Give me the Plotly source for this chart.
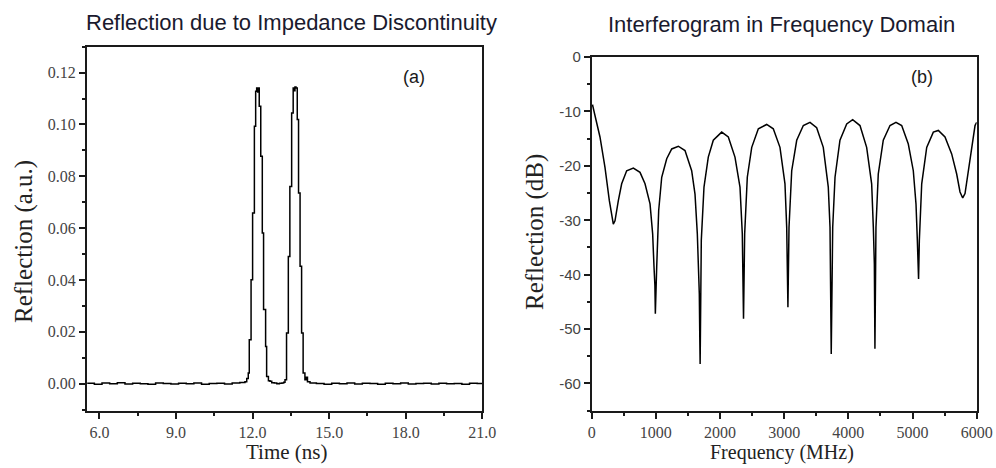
import plotly.graph_objects as go

# ---------------- data: panel (a) ----------------
time_ns = [5.52, 5.8, 6.1, 6.4, 6.7, 7.0, 7.3, 7.6, 7.9, 8.2, 8.5, 8.8, 9.1, 9.4, 9.7,
           10.0, 10.3, 10.6, 10.9, 11.2, 11.5, 11.7, 11.77, 11.83, 11.87, 11.94, 12.00,
           12.07, 12.12, 12.16, 12.20, 12.22, 12.26, 12.32, 12.38, 12.43, 12.51, 12.55,
           12.62, 12.68, 12.75, 12.85, 12.95, 13.05, 13.15, 13.22, 13.27, 13.33, 13.40,
           13.46, 13.53, 13.59, 13.63, 13.66, 13.70, 13.75, 13.80, 13.86, 13.92, 13.98,
           14.05, 14.10, 14.15, 14.25, 14.5, 14.8, 15.1, 15.4, 15.7, 16.0, 16.3, 16.6,
           16.9, 17.2, 17.5, 17.8, 18.1, 18.4, 18.7, 19.0, 19.3, 19.6, 19.9, 20.2, 20.5,
           20.8, 21.0]
refl_au = [0.0002, -0.0002, 0.0003, 0.0000, 0.0004, -0.0001, 0.0002, 0.0000, -0.0002,
           0.0003, 0.0001, -0.0001, 0.0002, 0.0000, 0.0003, -0.0002, 0.0001, 0.0002,
           -0.0001, 0.0003, 0.0005, 0.0008, 0.0020, 0.0041, 0.0170, 0.0401, 0.0659,
           0.0993, 0.1128, 0.1141, 0.1125, 0.1141, 0.1070, 0.0877, 0.0581, 0.0286,
           0.0144, 0.0028, 0.0012, 0.0010, 0.0004, 0.0003, 0.0000, 0.0002, 0.0003,
           0.0006, 0.0015, 0.0196, 0.0491, 0.0761, 0.1044, 0.1141, 0.1130, 0.1145,
           0.1141, 0.1019, 0.0736, 0.0453, 0.0196, 0.0041, 0.0015, 0.0025, 0.0008,
           0.0003, 0.0001, -0.0002, 0.0002, 0.0000, 0.0003, -0.0001, 0.0002, 0.0001,
           -0.0002, 0.0002, 0.0000, 0.0003, -0.0001, 0.0001, 0.0002, -0.0001, 0.0002,
           0.0000, 0.0001, -0.0002, 0.0002, 0.0001, 0.0000]

# ---------------- data: panel (b) ----------------
freq_mhz = [0, 15, 51, 129, 207, 275, 337, 363, 415, 467, 545, 649, 753, 831, 909, 950,
            971, 985, 992, 1000, 1013, 1044, 1091, 1169, 1247, 1350, 1454, 1558, 1610,
            1646, 1677, 1685, 1690, 1708, 1750, 1817, 1895, 2026, 2129, 2233, 2311, 2347,
            2360, 2366, 2384, 2425, 2494, 2597, 2727, 2830, 2934, 3012, 3039, 3050, 3058,
            3075, 3117, 3195, 3298, 3402, 3506, 3609, 3687, 3714, 3725, 3733, 3756, 3792,
            3869, 3974, 4067, 4181, 4285, 4363, 4389, 4405, 4414, 4430, 4466, 4544, 4649,
            4742, 4831, 4934, 5012, 5054, 5075, 5085, 5094, 5106, 5143, 5221, 5324, 5402,
            5506, 5610, 5688, 5740, 5782, 5818, 5870, 5922, 5974, 6000]
refl_db = [-9.0, -8.9, -10.75, -14.7, -20.3, -26.4, -30.7, -30.1, -26.4, -23.3, -20.9,
           -20.4, -21.2, -23.3, -27.0, -32.5, -38.6, -42.0, -47.2, -42.5, -38.6, -28.2,
           -22.1, -18.7, -16.9, -16.4, -17.2, -20.9, -25.2, -32.5, -43.5, -52.0, -56.4,
           -33.7, -23.9, -18.4, -15.3, -13.8, -14.7, -18.4, -23.9, -32.5, -41.0, -48.1,
           -32.5, -22.1, -16.6, -13.2, -12.4, -13.2, -16.6, -23.3, -31.3, -38.0, -46.0,
           -31.3, -20.9, -15.3, -12.6, -12.0, -13.0, -16.6, -23.9, -31.3, -48.0, -54.6,
           -31.3, -22.1, -15.3, -12.3, -11.5, -12.6, -16.6, -23.3, -31.3, -38.0, -53.6,
           -31.3, -21.5, -15.3, -12.6, -12.0, -12.6, -16.0, -20.9, -27.0, -33.7, -37.0,
           -40.8, -33.7, -23.3, -16.6, -13.8, -13.5, -14.7, -17.8, -21.5, -24.8, -25.9,
           -25.1, -20.9, -16.0, -12.6, -12.0]

# ---------------- ticks & labels ----------------
xa_ticks = [6, 9, 12, 15, 18, 21]
xa_labels = ["6.0", "9.0", "12.0", "15.0", "18.0", "21.0"]
ya_ticks = [0.00, 0.02, 0.04, 0.06, 0.08, 0.10, 0.12]
ya_labels = ["0.00", "0.02", "0.04", "0.06", "0.08", "0.10", "0.12"]
xb_ticks = [0, 1000, 2000, 3000, 4000, 5000, 6000]
xb_labels = ["0", "1000", "2000", "3000", "4000", "5000", "6000"]
yb_ticks = [0, -10, -20, -30, -40, -50, -60]
yb_labels = ["0", "-10", "-20", "-30", "-40", "-50", "-60"]

W, H = 996, 468
AX = "#1a1a1a"
TICKC = "#444444"


def fx(p):
    return p / W


def fy(p):
    return 1 - p / H


def axis(domain, rng, tickvals, ticktext, minor_dtick, minor_tick0, font, size, anchor):
    return dict(
        domain=domain, range=rng, anchor=anchor, automargin=False,
        showline=True, linecolor=AX, linewidth=1.6, mirror=True,
        ticks="outside", ticklen=6, tickwidth=1.5, tickcolor=AX,
        tickmode="array", tickvals=tickvals, ticktext=ticktext,
        minor=dict(ticks="outside", ticklen=3, tickwidth=1.5, tickcolor=AX,
                   dtick=minor_dtick, tick0=minor_tick0, showgrid=False),
        showgrid=False, zeroline=False,
        tickfont=dict(family=font, size=size, color=TICKC),
    )


fig = go.Figure()
fig.add_trace(go.Scatter(x=time_ns, y=refl_au, mode="lines",
                         line=dict(color="black", width=1.5, shape="hv"),
                         xaxis="x", yaxis="y", showlegend=False))
fig.add_trace(go.Scatter(x=freq_mhz, y=refl_db, mode="lines",
                         line=dict(color="black", width=1.5),
                         xaxis="x2", yaxis="y2", showlegend=False))

fig.update_layout(
    width=W, height=H, autosize=False,
    margin=dict(l=0, r=0, t=0, b=0, pad=0, autoexpand=False),
    paper_bgcolor="white", plot_bgcolor="white",
    showlegend=False,
    xaxis=axis([fx(86.7), fx(482.3)], [5.5, 21.0], xa_ticks, xa_labels, 1.5, 4.5,
               "Liberation Serif", 16, "y"),
    yaxis=axis([fy(410.7), fy(46.7)], [-0.0104, 0.130], ya_ticks, ya_labels, 0.01, 0,
               "Liberation Serif", 16, "x"),
    xaxis2=axis([fx(591.7), fx(976.7)], [0, 6000], xb_ticks, xb_labels, 500, 0,
                "Liberation Serif", 16, "y2"),
    yaxis2=axis([fy(410.7), fy(57)], [-65, 0], yb_ticks, yb_labels, 5, 0,
                "Liberation Sans", 15, "x2"),
)

annos = [
    dict(text="Reflection due to Impedance Discontinuity", x=fx(291), y=fy(22),
         font=dict(family="Liberation Sans", size=22, color="#1a1a2e")),
    dict(text="Interferogram in Frequency Domain", x=fx(781.5), y=fy(24),
         font=dict(family="Liberation Sans", size=22, color="#1a1a2e")),
    dict(text="Time (ns)", x=fx(287), y=fy(452),
         font=dict(family="Liberation Serif", size=21, color="#222")),
    dict(text="Frequency (MHz)", x=fx(782), y=fy(452),
         font=dict(family="Liberation Serif", size=20, color="#222")),
    dict(text="Reflection (a.u.)", x=fx(24), y=fy(242), textangle=-90,
         font=dict(family="Liberation Serif", size=25, color="#222")),
    dict(text="Reflection (dB)", x=fx(535), y=fy(232), textangle=-90,
         font=dict(family="Liberation Serif", size=25, color="#222")),
    dict(text="(a)", x=fx(414), y=fy(77),
         font=dict(family="Liberation Sans", size=18, color="#1a1a1a")),
    dict(text="(b)", x=fx(922), y=fy(77),
         font=dict(family="Liberation Sans", size=18, color="#1a1a1a")),
]
for a in annos:
    a.update(xref="paper", yref="paper", showarrow=False,
             xanchor="center", yanchor="middle")
fig.update_layout(annotations=annos)

fig.write_html(
    "out.html",
    config={"displayModeBar": False},
    post_script="document.body.style.margin='0';document.body.style.overflow='hidden';",
)
